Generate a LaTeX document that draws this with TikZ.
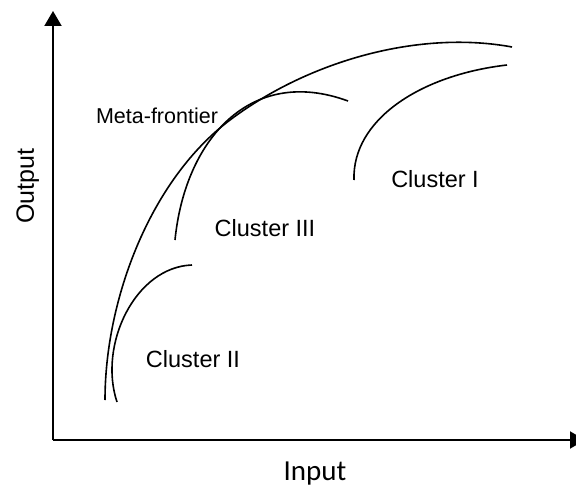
\documentclass[tikz,border=0pt]{standalone}
\usepackage{fontspec}
\setmainfont{Liberation Sans}
\newfontfamily\inputfont{Carlito}
\usetikzlibrary{arrows.meta}
\begin{document}
\begin{tikzpicture}[x=1pt,y=-1pt,
  axisline/.style={line width=2pt,-{Triangle[length=15pt,width=17pt]}},
  curveline/.style={line width=1.6pt},
  lbl/.style={font=\fontsize{23.5}{28}\selectfont,anchor=base,inner sep=0pt}]
\clip (0,0) rectangle (576,487);
\fill[white] (0,0) rectangle (576,487);
\coordinate (O) at (53,440);
\coordinate (ytip) at (53,11);
\coordinate (xtip) at (585,440);
\draw[axisline] (O) -- (ytip);
\draw[axisline] (O) -- (xtip);
% meta-frontier
\coordinate (m0) at (105,400);
\coordinate (m1) at (230,120);
\coordinate (m2) at (512,47);
\draw[curveline] (m0) .. controls (105,300) and (150,180) .. (m1)
                      .. controls (310,60) and (420,30) .. (m2);
% cluster II
\coordinate (a0) at (117,402);
\coordinate (a1) at (192,265);
\draw[curveline] (a0) .. controls (98,345) and (135,267) .. (a1);
% cluster III
\coordinate (b0) at (175,240);
\coordinate (b1) at (348,101);
\draw[curveline] (b0) .. controls (185,140) and (250,65) .. (b1);
% cluster I
\coordinate (c0) at (354,180);
\coordinate (c1) at (507,65);
\draw[curveline] (c0) .. controls (352,120) and (420,75) .. (c1);
\node[lbl,font=\fontsize{21.5}{26}\selectfont] (meta) at (157,124) {Meta-frontier};
\node[lbl] (cl1) at (435,187) {Cluster I};
\node[lbl] (cl3) at (265,236) {Cluster III};
\node[lbl] (cl2) at (193,367) {Cluster II};
\node[lbl,font=\fontsize{25}{30}\selectfont,rotate=90] (yl) at (34,186) {Output};
\node[lbl,font=\inputfont\fontsize{29}{34}\selectfont] (xl) at (315,480) {Input};
\end{tikzpicture}
\end{document}
